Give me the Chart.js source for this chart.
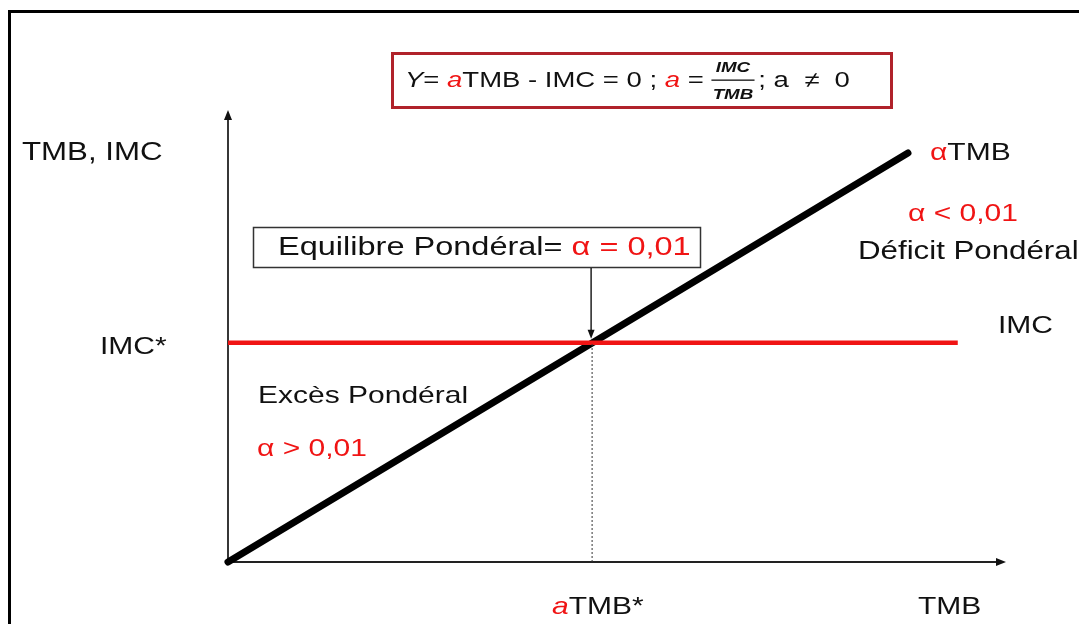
<!DOCTYPE html>
<html lang="fr">
<head>
<meta charset="utf-8">
<script src="https://cdn.jsdelivr.net/npm/chart.js@4.4.1/dist/chart.umd.min.js"></script>
<style>
  html, body { margin: 0; padding: 0; background: #fff; }
  #wrap { width: 1079px; height: 624px; position: relative; }
</style>
</head>
<body>
<div id="wrap"><canvas id="graphique"></canvas></div>
<script>
// échelles (unités arbitraires)
const axeX = [0, 100];
const axeY = [0, 100];

// droite αTMB
const droiteTmbX = [0, 87.4];
const droiteTmbY = [0, 90.5];

// IMC* constant
const imcX = [0, 93.8];
const imcY = [48.5, 48.5];

// point d'équilibre (pointillés)
const equilibreX = [46.8, 46.8];
const equilibreY = [0, 48.5];

const ROUGE = '#f01414';
const NOIR = '#111';
const POLICE = '"Liberation Sans", Arial, sans-serif';
const ETIRE = 1.25;

const pts = (xs, ys) => xs.map((x, i) => ({ x, y: ys[i] }));

function texte(ctx, runs, x, y) {
  ctx.save();
  ctx.translate(x, y);
  ctx.scale(ETIRE, 1);
  ctx.textBaseline = 'middle';
  ctx.textAlign = 'left';
  let cx = 0;
  for (const r of runs) {
    ctx.font = r.font;
    ctx.fillStyle = r.color || NOIR;
    if (r.frac) {
      const w = Math.max(ctx.measureText(r.frac[0]).width, ctx.measureText(r.frac[1]).width) + 2;
      ctx.textAlign = 'center';
      ctx.fillText(r.frac[0], cx + w / 2, -13);
      ctx.fillText(r.frac[1], cx + w / 2, 14);
      ctx.fillRect(cx, -1.5, w, 1.3);
      ctx.textAlign = 'left';
      cx += w + 3;
    } else {
      ctx.fillText(r.t, cx, 0);
      cx += ctx.measureText(r.t).width;
    }
  }
  ctx.restore();
}

function fleche(ctx, x, y, dir, w, h) {
  ctx.beginPath();
  if (dir === 'haut') { ctx.moveTo(x, y); ctx.lineTo(x - w / 2, y + h); ctx.lineTo(x + w / 2, y + h); }
  if (dir === 'bas') { ctx.moveTo(x, y); ctx.lineTo(x - w / 2, y - h); ctx.lineTo(x + w / 2, y - h); }
  if (dir === 'droite') { ctx.moveTo(x, y); ctx.lineTo(x - h, y - w / 2); ctx.lineTo(x - h, y + w / 2); }
  ctx.closePath();
  ctx.fill();
}

const axes = {
  id: 'axes',
  beforeDatasetsDraw(chart) {
    const { ctx, scales: { x, y } } = chart;
    const x0 = x.getPixelForValue(axeX[0]), x1 = x.getPixelForValue(axeX[1]);
    const y0 = y.getPixelForValue(axeY[0]), y1 = y.getPixelForValue(axeY[1]);
    ctx.save();
    // cadre extérieur
    ctx.strokeStyle = '#000';
    ctx.lineWidth = 3;
    ctx.strokeRect(9.5, 11.5, 1200, 700);
    ctx.strokeStyle = '#222';
    ctx.fillStyle = '#111';
    ctx.lineWidth = 1.8;
    ctx.beginPath();
    ctx.moveTo(x0, y0); ctx.lineTo(x0, y1 + 6);
    ctx.moveTo(x0, y0); ctx.lineTo(x1 - 6, y0);
    ctx.stroke();
    fleche(ctx, x0, y1, 'haut', 8, 10);
    fleche(ctx, x1, y0, 'droite', 8, 10);
    ctx.restore();
  },
  afterDraw(chart) {
    const { ctx, scales: { x, y } } = chart;
    const ex = x.getPixelForValue(equilibreX[1]);
    const ey = y.getPixelForValue(equilibreY[1]);
    const f24 = '24px ' + POLICE;
    const f25 = '25px ' + POLICE;
    const fi24 = 'italic 24px ' + POLICE;
    ctx.save();

    // encadré de la formule
    ctx.strokeStyle = '#b0222a';
    ctx.lineWidth = 3;
    ctx.strokeRect(392.5, 53.5, 499, 54);
    const f22 = '22px ' + POLICE, fi22 = 'italic 22px ' + POLICE;
    texte(ctx, [
      { t: 'Y', font: fi22 }, { t: '= ', font: f22 },
      { t: 'a', font: fi22, color: ROUGE }, { t: 'TMB - IMC = 0 ; ', font: f22 },
      { t: 'a', font: fi22, color: ROUGE }, { t: ' = ', font: f22 },
      { frac: ['IMC', 'TMB'], font: 'italic bold 15px ' + POLICE },
      { t: '; a  \u2260  0', font: f22 }
    ], 405, 81);

    // encadré équilibre
    ctx.strokeStyle = '#333';
    ctx.lineWidth = 1.5;
    ctx.strokeRect(253.5, 227.5, 447, 40);
    const f26 = '26px ' + POLICE;
    texte(ctx, [{ t: 'Equilibre Pondéral= ', font: f26 }, { t: 'α = 0,01', font: f26, color: ROUGE }], 278, 248);

    // flèche vers l'équilibre
    ctx.strokeStyle = '#111';
    ctx.fillStyle = '#111';
    ctx.lineWidth = 1.4;
    ctx.beginPath();
    ctx.moveTo(ex - 1, 268); ctx.lineTo(ex - 1, ey - 10);
    ctx.stroke();
    fleche(ctx, ex - 1, ey - 4, 'bas', 7, 9);

    // étiquettes
    texte(ctx, [{ t: 'TMB, IMC', font: f25 }], 22, 153);
    texte(ctx, [{ t: 'IMC*', font: f24 }], 100, ey + 5);
    texte(ctx, [{ t: 'α', font: f24, color: ROUGE }, { t: 'TMB', font: f24 }], 930, 153);
    texte(ctx, [{ t: 'α < 0,01', font: f24, color: ROUGE }], 908, 214);
    texte(ctx, [{ t: 'Déficit Pondéral', font: f25 }], 858, 252);
    texte(ctx, [{ t: 'IMC', font: f24 }], 998, 326);
    texte(ctx, [{ t: 'Excès Pondéral', font: f24 }], 258, 396);
    texte(ctx, [{ t: 'α > 0,01', font: f24, color: ROUGE }], 257, 449);
    texte(ctx, [{ t: 'a', font: fi24, color: ROUGE }, { t: 'TMB*', font: f24 }], 552, 607);
    texte(ctx, [{ t: 'TMB', font: f24 }], 918, 607);
    ctx.restore();
  }
};

new Chart(document.getElementById('graphique'), {
  type: 'scatter',
  data: {
    datasets: [
      { data: pts(equilibreX, equilibreY), showLine: true, borderColor: '#333', borderWidth: 1, borderDash: [2, 2], pointRadius: 0, clip: false },
      { data: pts(imcX, imcY), showLine: true, borderColor: ROUGE, borderWidth: 4.5, pointRadius: 0, clip: false },
      { data: pts(droiteTmbX, droiteTmbY), showLine: true, borderColor: '#000', borderWidth: 7, borderCapStyle: 'round', pointRadius: 0, clip: false }
    ]
  },
  options: {
    responsive: true,
    maintainAspectRatio: false,
    animation: false,
    layout: { padding: { left: 228, right: 73, top: 110, bottom: 62 } },
    plugins: { legend: { display: false }, tooltip: { enabled: false } },
    scales: {
      x: { type: 'linear', min: axeX[0], max: axeX[1], display: false },
      y: { type: 'linear', min: axeY[0], max: axeY[1], display: false }
    }
  },
  plugins: [axes]
});
</script>
</body>
</html>
